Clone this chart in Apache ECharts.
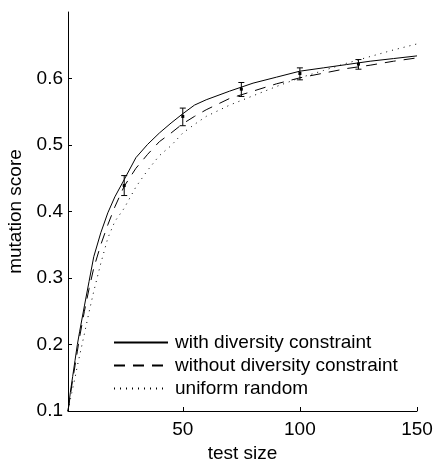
<!DOCTYPE html>
<html lang="en">
<head>
    <meta charset="UTF-8">
    <title>mutation score</title>
    <script src="https://cdn.jsdelivr.net/npm/echarts@6/dist/echarts.min.js"></script>
    <style>
        html, body { margin: 0; padding: 0; background: #fff; }
        #chart { width: 434px; height: 459px; }
    </style>
</head>
<body>
<div id="chart"></div>
<script>
    // test sizes sampled along the curves
    var testSize = [1, 2, 3, 4, 5, 6, 8, 10, 12, 15, 18, 21, 25, 30, 35, 40, 45, 50, 55, 60, 70, 80, 90, 100, 110, 120, 130, 140, 150]
    var withDiversity = [0.100, 0.128, 0.152, 0.176, 0.200, 0.220, 0.258, 0.295, 0.332, 0.368, 0.398, 0.422, 0.448, 0.481, 0.501, 0.518, 0.533, 0.547, 0.560, 0.568, 0.581, 0.593, 0.602, 0.611, 0.616, 0.621, 0.626, 0.630, 0.634]
    var withoutDiversity = [0.100, 0.124, 0.147, 0.168, 0.190, 0.212, 0.250, 0.284, 0.315, 0.350, 0.380, 0.407, 0.438, 0.465, 0.486, 0.505, 0.518, 0.532, 0.543, 0.553, 0.570, 0.581, 0.592, 0.601, 0.608, 0.615, 0.620, 0.626, 0.631]
    var uniformRandom = [0.100, 0.117, 0.134, 0.150, 0.168, 0.184, 0.216, 0.249, 0.280, 0.322, 0.360, 0.385, 0.405, 0.437, 0.462, 0.484, 0.499, 0.518, 0.531, 0.543, 0.560, 0.574, 0.588, 0.601, 0.612, 0.623, 0.633, 0.643, 0.652]

    // error bars
    var errX = [25, 50, 75, 100, 125]
    var errMean = [0.439, 0.543, 0.584, 0.6075, 0.6216]
    var errLow = [0.424, 0.529, 0.573, 0.598, 0.614]
    var errHigh = [0.454, 0.5555, 0.594, 0.616, 0.6285]

    var xTicks = [50, 100, 150]
    var yTicks = [0.1, 0.2, 0.3, 0.4, 0.5, 0.6]

    var font = "'Liberation Sans', Arial, Helvetica, sans-serif"

    function pairs(ys) {
        return testSize.map(function (x, i) { return [x, ys[i]] })
    }

    var myChart = echarts.init(document.getElementById('chart'))

    var option = {
        animation: false,
        textStyle: { fontFamily: font },
        grid: { left: 68, right: 17, top: 12, bottom: 48, outerBoundsMode: 'none' },
        legend: {
            data: ['with diversity constraint', 'without diversity constraint', 'uniform random'],
            orient: 'vertical',
            left: 108,
            top: 328,
            itemWidth: 54,
            itemHeight: 14,
            itemGap: 4,
            itemStyle: { opacity: 0 },
            textStyle: { fontSize: 19, color: '#000', fontFamily: font, lineHeight: 19, padding: [0, 0, 0, 2] }
        },
        xAxis: {
            type: 'value',
            min: 1,
            max: 150,
            name: 'test size',
            nameLocation: 'middle',
            nameGap: 30,
            nameTextStyle: { fontSize: 19, color: '#000', fontFamily: font },
            splitLine: { show: false },
            axisLine: { lineStyle: { color: '#000', width: 1 } },
            axisTick: { inside: true, length: 4, customValues: xTicks, lineStyle: { color: '#000' } },
            axisLabel: { customValues: xTicks, fontSize: 19, color: '#000', margin: 9, fontFamily: font }
        },
        yAxis: {
            type: 'value',
            min: 0.1,
            max: 0.7,
            name: 'mutation score',
            nameLocation: 'middle',
            nameGap: 39,
            nameTextStyle: { fontSize: 19, color: '#000', fontFamily: font },
            splitLine: { show: false },
            axisLine: { show: true, lineStyle: { color: '#000', width: 1 } },
            axisTick: { show: true, inside: true, length: 4, customValues: yTicks, lineStyle: { color: '#000' } },
            axisLabel: { customValues: yTicks, fontSize: 19, color: '#000', margin: 5, fontFamily: font }
        },
        series: [
            {
                name: 'with diversity constraint',
                type: 'line',
                symbol: 'none',
                data: pairs(withDiversity),
                lineStyle: { color: '#000', width: 1 },
                itemStyle: { color: '#000' }
            },
            {
                name: 'without diversity constraint',
                type: 'line',
                symbol: 'none',
                data: pairs(withoutDiversity),
                lineStyle: { color: '#000', width: 1, type: [11, 8] },
                itemStyle: { color: '#000' }
            },
            {
                name: 'uniform random',
                type: 'line',
                symbol: 'none',
                data: pairs(uniformRandom),
                lineStyle: { color: '#000', width: 1, type: [1, 5] },
                itemStyle: { color: '#000' }
            },
            {
                name: 'error',
                type: 'custom',
                data: errX.map(function (x, i) { return [x, errLow[i], errHigh[i], errMean[i]] }),
                encode: { x: 0, y: [1, 2] },
                renderItem: function (params, api) {
                    var lo = api.coord([api.value(0), api.value(1)])
                    var hi = api.coord([api.value(0), api.value(2)])
                    var m = api.coord([api.value(0), api.value(3)])
                    var w = 3
                    var st = { stroke: '#000', lineWidth: 1 }
                    return {
                        type: 'group',
                        children: [
                            { type: 'line', shape: { x1: lo[0], y1: lo[1], x2: hi[0], y2: hi[1] }, style: st },
                            { type: 'line', shape: { x1: lo[0] - w, y1: lo[1], x2: lo[0] + w, y2: lo[1] }, style: st },
                            { type: 'line', shape: { x1: hi[0] - w, y1: hi[1], x2: hi[0] + w, y2: hi[1] }, style: st },
                            { type: 'rect', shape: { x: m[0] - 1.5, y: m[1] - 1.5, width: 3, height: 3 }, style: { fill: '#000' } }
                        ]
                    }
                }
            }
        ]
    }

    myChart.setOption(option)
</script>
</body>
</html>
